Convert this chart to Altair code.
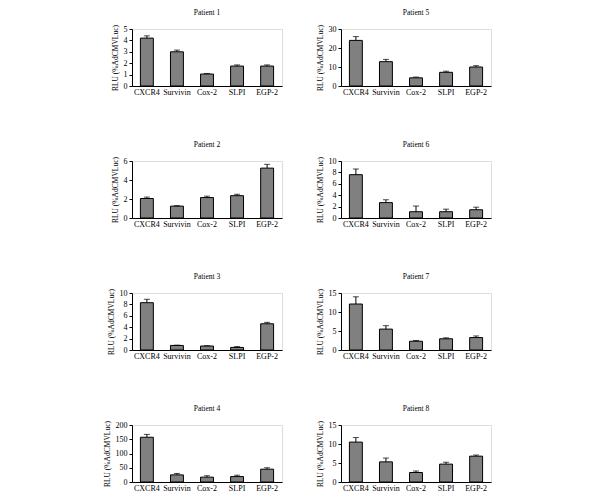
import altair as alt
import pandas as pd

genes = ["CXCR4", "Survivin", "Cox-2", "SLPI", "EGP-2"]
patients = ["Patient 1", "Patient 2", "Patient 3", "Patient 4",
            "Patient 5", "Patient 6", "Patient 7", "Patient 8"]
values = {
    "Patient 1": [4.2, 3.0, 1.05, 1.75, 1.75],
    "Patient 2": [2.05, 1.25, 2.15, 2.35, 5.25],
    "Patient 3": [8.3, 0.8, 0.7, 0.45, 4.6],
    "Patient 4": [157, 25, 17, 19, 45],
    "Patient 5": [24, 12.8, 4.3, 7.2, 10.0],
    "Patient 6": [7.6, 2.7, 1.1, 1.1, 1.45],
    "Patient 7": [12.1, 5.5, 2.3, 2.95, 3.27],
    "Patient 8": [10.5, 5.3, 2.5, 4.7, 6.8],
}
upper = {
    "Patient 1": [4.4, 3.15, 1.1, 1.85, 1.85],
    "Patient 2": [2.2, 1.3, 2.3, 2.5, 5.65],
    "Patient 3": [8.9, 0.85, 0.75, 0.6, 4.85],
    "Patient 4": [167, 30, 22, 24, 50],
    "Patient 5": [26, 14, 4.7, 7.8, 10.7],
    "Patient 6": [8.6, 3.2, 2.1, 1.55, 1.9],
    "Patient 7": [14, 6.4, 2.5, 3.2, 3.7],
    "Patient 8": [11.7, 6.3, 2.9, 5.2, 7.1],
}
ymax = {"Patient 1": 5, "Patient 2": 6, "Patient 3": 10, "Patient 4": 200,
        "Patient 5": 30, "Patient 6": 10, "Patient 7": 15, "Patient 8": 15}
ystep = {"Patient 1": 1, "Patient 2": 2, "Patient 3": 2, "Patient 4": 50,
         "Patient 5": 10, "Patient 6": 2, "Patient 7": 5, "Patient 8": 5}

rows = []
for p in patients:
    for g, v, u in zip(genes, values[p], upper[p]):
        rows.append({"patient": p, "gene": g, "value": v, "upper": u})
df = pd.DataFrame(rows)

FONT = "Liberation Serif"


def panel(p):
    m = ymax[p]
    s = ystep[p]
    ticks = list(range(0, m + 1, s))
    base = alt.Chart(df).transform_filter(alt.datum.patient == p)
    x = alt.X("gene:N", sort=genes, title=None,
              scale=alt.Scale(paddingInner=0.57, paddingOuter=0.28),
              axis=alt.Axis(labelAngle=0, ticks=False, domainColor="black",
                            labelFont=FONT, labelFontSize=8, labelColor="black",
                            labelPadding=2))
    yaxis = alt.Axis(values=ticks, grid=False, domainColor="black",
                     tickColor="black", tickSize=3, labelFont=FONT,
                     labelFontSize=8, labelColor="black", labelOverlap=False,
                     titleFont=FONT, titleFontSize=7.5,
                     titleFontWeight="normal", titleColor="black",
                     titlePadding=4)
    yscale = alt.Scale(domain=[0, m], nice=False)
    ttl = "RLU (%AdCMVLuc)"
    bars = base.mark_bar(color="#808080", stroke="black", strokeWidth=1).encode(
        x=x, y=alt.Y("value:Q", title=ttl, scale=yscale, axis=yaxis))
    err = base.mark_rule(color="black", strokeWidth=1).encode(
        x=x, y=alt.Y("value:Q", title=ttl, scale=yscale, axis=yaxis), y2="upper:Q")
    cap = base.mark_tick(color="black", thickness=1, size=6).encode(
        x=x, y=alt.Y("upper:Q", title=ttl, scale=yscale, axis=yaxis))
    return alt.layer(bars, err, cap).properties(
        width=150, height=57,
        title=alt.TitleParams(p, font=FONT, fontSize=7.5, fontWeight="normal",
                              color="black", offset=8))


rows_charts = []
for i in range(4):
    rows_charts.append(alt.hconcat(panel(patients[i]), panel(patients[i + 4]), spacing=32))

chart = alt.vconcat(*rows_charts, spacing=43).properties(
    padding={"left": 94, "top": 0, "right": 5, "bottom": 5}
).configure_view(stroke=None).configure(background="white")

chart.save("out.html", embed_options={"renderer": "svg", "actions": False})
